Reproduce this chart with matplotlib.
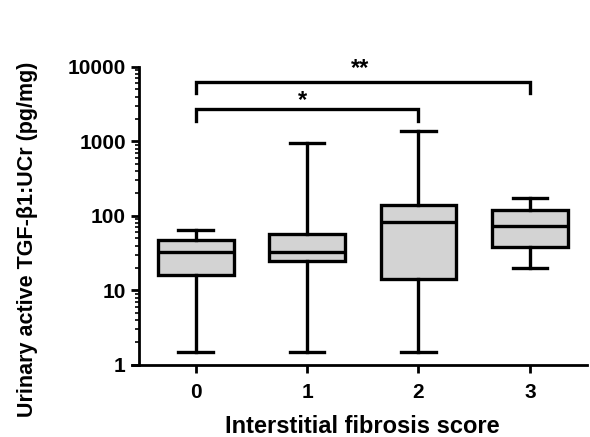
import matplotlib
matplotlib.use("Agg")
import matplotlib.pyplot as plt
from matplotlib.ticker import LogLocator, NullFormatter, FixedLocator

plt.rcParams['font.family'] = ['Liberation Sans', 'DejaVu Sans']
plt.rcParams['font.weight'] = 'bold'

# data (pg/mg)
scores = ['0', '1', '2', '3']
whisk_lo = [1.5, 1.5, 1.5, 20]
q1 = [16, 25, 14, 38]
median = [33, 33, 84, 74]
q3 = [48, 57, 140, 120]
whisk_hi = [65, 950, 1380, 175]

stats = []
for i in range(len(scores)):
    stats.append(dict(label=scores[i], whislo=whisk_lo[i], q1=q1[i], med=median[i],
                      q3=q3[i], whishi=whisk_hi[i], fliers=[]))

fig = plt.figure(figsize=(5.9, 4.37), dpi=100)
ax = fig.add_axes([0.2237, 0.165, 0.771, 0.682])

lw = 2.4
ax.bxp(stats, positions=range(len(scores)), widths=0.68, patch_artist=True,
       showfliers=False,
       boxprops=dict(facecolor='#d3d3d3', edgecolor='black', linewidth=lw),
       medianprops=dict(color='black', linewidth=lw),
       whiskerprops=dict(color='black', linewidth=lw),
       capprops=dict(color='black', linewidth=lw),
       capwidths=0.31)

ax.set_yscale('log')
ax.set_ylim(1, 10000)
ax.set_xlim(-0.571, 3.511)
ax.yaxis.set_major_locator(FixedLocator([1, 10, 100, 1000, 10000]))
ax.set_yticklabels(['1', '10', '100', '1000', '10000'])
ax.yaxis.set_minor_locator(LogLocator(base=10, subs=range(2, 10)))
ax.yaxis.set_minor_formatter(NullFormatter())

for s in ['top', 'right']:
    ax.spines[s].set_visible(False)
for s in ['left', 'bottom']:
    ax.spines[s].set_linewidth(2)
# x axis runs a little past the y axis, GraphPad style
ax.spines['left'].set_position(('axes', 0.0154))

ax.tick_params(axis='both', which='major', direction='out', length=6, width=2,
               labelsize=15)
ax.tick_params(axis='x', which='major', pad=7)
ax.tick_params(axis='y', which='minor', direction='out', length=3, width=1.2)

ax.set_xlabel('Interstitial fibrosis score', fontsize=17, fontweight='bold')
ax.set_ylabel('Urinary active TGF-β1:UCr (pg/mg)', fontsize=15.5, fontweight='bold')
ax.xaxis.set_label_coords(0.507, -0.168)
ax.yaxis.set_label_coords(-0.207, 0.42)

# significance brackets
def bracket(x1, x2, y, leg, text, tx, ty):
    ax.plot([x1, x1, x2, x2], [y / leg, y, y, y / leg], color='black',
            linewidth=lw, clip_on=False, solid_joinstyle='miter')
    ax.text(tx, ty, text, ha='center', va='center',
            fontsize=17, fontweight='bold')

bracket(0, 2, 2700, 1.45, '*', 0.96, 3500)
bracket(0, 3, 6300, 1.4, '**', 1.48, 9400)

fig.savefig('out.png', dpi=100)
